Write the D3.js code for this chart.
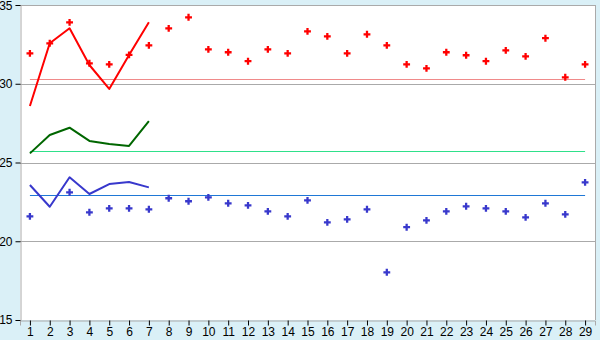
<!DOCTYPE html>
<html>
<head>
<meta charset="utf-8">
<script src="https://cdn.jsdelivr.net/npm/d3@7"></script>
<style>
  body { margin: 0; background: #daf0f7; }
  svg { display: block; font-family: "Liberation Sans", Arial, sans-serif; }
</style>
</head>
<body>
<div id="chart"></div>
<script>
// categories 1..29
const days = d3.range(1, 30);

// scatter readings (null = no reading)
const redPoints = [31.93, 32.57, 33.90, 31.30, 31.23, 31.83, 32.44, 33.52, 34.22, 32.18,
  32.00, 31.43, 32.18, 31.93, 33.33, 33.01, 31.93, 33.14, 32.44, 31.23,
  30.98, 32.00, 31.81, 31.43, 32.12, 31.74, 32.89, 30.41, 31.23];
const bluePoints = [21.58, null, 23.11, 21.84, 22.09, 22.09, 22.03, 22.73, 22.54, 22.79,
  22.41, 22.28, 21.90, 21.58, 22.60, 21.20, 21.39, 22.03, 18.03, 20.89,
  21.33, 21.90, 22.22, 22.09, 21.90, 21.52, 22.41, 21.71, 23.74];

// lines over the first week
const redLine = [28.59, 32.57, 33.52, 31.19, 29.67, 31.83, 33.90];
const greenLine = [25.58, 26.75, 27.21, 26.37, 26.17, 26.05, 27.63];
const blueLine = [23.57, 22.19, 24.06, 23.00, 23.63, 23.76, 23.42];

// reference levels
const refLevels = [30.30, 25.73, 22.94];
const refColors = ['#f08a8a', '#2fe08a', '#1f78d6'];

const yTicks = [15, 20, 25, 30, 35];

const width = 600, height = 340;
const margin = { top: 5, right: 5, bottom: 20, left: 20 };

const svg = d3.select('#chart').append('svg')
  .attr('width', width)
  .attr('height', height);

const x = d3.scalePoint()
  .domain(days)
  .range([margin.left, width - margin.right])
  .padding(0.5);

const y = d3.scaleLinear()
  .domain([15, 35])
  .range([height - margin.bottom, margin.top]);

// plot background
svg.append('rect')
  .attr('x', margin.left)
  .attr('y', margin.top)
  .attr('width', width - margin.left - margin.right)
  .attr('height', height - margin.top - margin.bottom)
  .attr('fill', '#fff');

// grid lines
svg.append('g')
  .selectAll('line')
  .data(yTicks.slice(1))
  .join('line')
  .attr('x1', margin.left)
  .attr('x2', width - margin.right)
  .attr('y1', d => Math.round(y(d)) + 0.5)
  .attr('y2', d => Math.round(y(d)) + 0.5)
  .attr('stroke', '#aaa');

// right border
svg.append('line')
  .attr('x1', width - margin.right + 0.5)
  .attr('x2', width - margin.right + 0.5)
  .attr('y1', margin.top)
  .attr('y2', height - margin.bottom)
  .attr('stroke', '#aaa');

// axes
const yAxis = svg.append('g')
  .attr('transform', `translate(${margin.left + 0.5},0)`)
  .call(d3.axisLeft(y).tickValues(yTicks).tickSize(5).tickPadding(3));
const xAxis = svg.append('g')
  .attr('transform', `translate(0,${height - margin.bottom + 0.5})`)
  .call(d3.axisBottom(x).tickSize(5).tickPadding(2));

[yAxis, xAxis].forEach(ax => {
  ax.select('.domain').attr('stroke', '#aaa');
  ax.selectAll('.tick line').attr('stroke', '#000');
  ax.selectAll('.tick text')
    .attr('fill', '#000')
    .style('font-size', '12px')
    .style('font-family', '"Liberation Sans", Arial, sans-serif');
});
// keep the top label inside the picture
yAxis.selectAll('.tick text').filter(d => d === 35).attr('dy', '0.4em');

// reference lines
svg.append('g')
  .selectAll('line')
  .data(refLevels)
  .join('line')
  .attr('x1', x(days[0]))
  .attr('x2', x(days[days.length - 1]))
  .attr('y1', d => Math.round(y(d)) + 0.5)
  .attr('y2', d => Math.round(y(d)) + 0.5)
  .attr('stroke', (d, i) => refColors[i])
  .attr('stroke-width', 1.2);

// scatter markers (under the lines)
const marker = d3.symbol().type(d3.symbolCross).size(26);

const scatter = [
  { values: redPoints, color: '#ff0000' },
  { values: bluePoints, color: '#3838cc' }
];

scatter.forEach(s => {
  const pts = s.values
    .map((v, i) => ({ day: days[i], v }))
    .filter(p => p.v != null);
  svg.append('g')
    .selectAll('path')
    .data(pts)
    .join('path')
    .attr('transform', p => `translate(${x(p.day)},${y(p.v)})`)
    .attr('d', marker)
    .attr('fill', s.color);
});

// series lines
const line = d3.line()
  .x((d, i) => x(days[i]))
  .y(d => y(d));

const lines = [
  { values: redLine, color: '#ff0000' },
  { values: greenLine, color: '#006600' },
  { values: blueLine, color: '#3838cc' }
];

svg.append('g')
  .selectAll('path')
  .data(lines)
  .join('path')
  .attr('d', d => line(d.values))
  .attr('fill', 'none')
  .attr('stroke', d => d.color)
  .attr('stroke-width', 2)
  .attr('stroke-linejoin', 'round');
</script>
</body>
</html>
